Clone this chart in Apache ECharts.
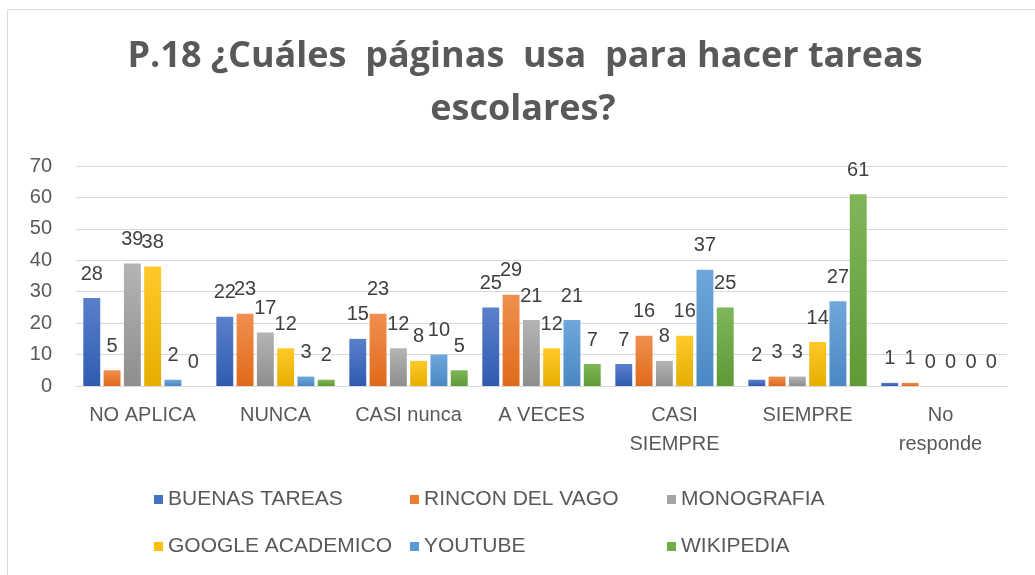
<!DOCTYPE html>
<html>
<head>
<meta charset="utf-8">
<script src="https://cdn.jsdelivr.net/npm/echarts@6/dist/echarts.min.js"></script>
<style>html,body{margin:0;padding:0;background:#fff}#c{width:1035px;height:575px}</style>
</head>
<body>
<div id="c"></div>
<script>
var categories = ['NO APLICA', 'NUNCA', 'CASI nunca', 'A VECES', 'CASI\nSIEMPRE', 'SIEMPRE', 'No\nresponde'];
var seriesNames = ['BUENAS TAREAS', 'RINCON DEL VAGO', 'MONOGRAFIA', 'GOOGLE ACADEMICO', 'YOUTUBE', 'WIKIPEDIA'];
var buenasTareas   = [28, 22, 15, 25, 7, 2, 1];
var rinconDelVago  = [5, 23, 23, 29, 16, 3, 1];
var monografia     = [39, 17, 12, 21, 8, 3, 0];
var googleAcademico= [38, 12, 8, 12, 16, 14, 0];
var youtube        = [2, 3, 10, 21, 37, 27, 0];
var wikipedia      = [0, 2, 5, 7, 25, 61, 0];
var yTicks = [0, 10, 20, 30, 40, 50, 60, 70];
var titleLines = ['P.18 ¿Cuáles  páginas  usa  para hacer tareas', 'escolares?'];

var allValues = [buenasTareas, rinconDelVago, monografia, googleAcademico, youtube, wikipedia];
var colorsTop = ['#5B80CC', '#F0904F', '#B4B4B4', '#FFC929', '#6FA7DB', '#7FB65A'];
var colorsBot = ['#2F5BB0', '#E06A1B', '#8E8E8E', '#E6AE00', '#4A88C4', '#5E9A36'];
var legendColors = ['#4472C4', '#ED7D31', '#A5A5A5', '#FFC000', '#5B9BD5', '#70AD47'];
var FONT = "'Liberation Sans', Arial, sans-serif";

var series = allValues.map(function (vals, i) {
  return {
    name: seriesNames[i],
    type: 'bar',
    data: vals,
    barGap: '20%',
    barCategoryGap: '11%',
    itemStyle: {
      color: new echarts.graphic.LinearGradient(0, 0, 0, 1, [
        {offset: 0, color: colorsTop[i]}, {offset: 1, color: colorsBot[i]}
      ])
    },
    label: {
      show: true, position: 'top', distance: 14,
      color: '#404040', fontSize: 20, fontFamily: FONT
    }
  };
});

function legendCol(left, names) {
  return {
    orient: 'vertical', left: left, top: 484, itemGap: 26,
    itemWidth: 9, itemHeight: 9, icon: 'rect',
    data: names.map(function (n) {
      return {name: n, itemStyle: {color: legendColors[seriesNames.indexOf(n)]}};
    }),
    textStyle: {color: '#595959', fontSize: 21, fontFamily: FONT, padding: [0, 0, 0, 0]}
  };
}

var chart = echarts.init(document.getElementById('c'));
chart.setOption({
  animation: false,
  color: legendColors,
  graphic: [
    {type: 'rect', shape: {x: 7.5, y: 9.5, width: 1040, height: 600}, style: {fill: null, stroke: '#D9D9D9', lineWidth: 1}, silent: true},
    {type: 'text', x: 525, y: 75, silent: true,
     style: {text: titleLines[0], textAlign: 'center', textVerticalAlign: 'bottom', fill: '#595959',
             font: "bold 36px 'Open Sans', sans-serif"}},
    {type: 'text', x: 523, y: 128, silent: true,
     style: {text: titleLines[1], textAlign: 'center', textVerticalAlign: 'bottom', fill: '#595959',
             font: "bold 36px 'Open Sans', sans-serif"}}
  ],
  legend: [
    legendCol(149, ['BUENAS TAREAS', 'GOOGLE ACADEMICO']),
    legendCol(405, ['RINCON DEL VAGO', 'YOUTUBE']),
    legendCol(662, ['MONOGRAFIA', 'WIKIPEDIA'])
  ],
  grid: {left: 76, right: 28, top: 166, bottom: 189},
  xAxis: {
    type: 'category', data: categories,
    axisLine: {lineStyle: {color: '#D9D9D9'}},
    axisTick: {show: false},
    axisLabel: {color: '#595959', fontSize: 20, fontFamily: FONT, lineHeight: 29, margin: 15, interval: 0}
  },
  yAxis: {
    type: 'value', min: yTicks[0], max: yTicks[yTicks.length - 1], interval: 10,
    axisLine: {show: false}, axisTick: {show: false},
    splitLine: {lineStyle: {color: '#D9D9D9'}},
    axisLabel: {color: '#595959', fontSize: 20, fontFamily: FONT, margin: 24}
  },
  series: series
});
</script>
</body>
</html>
